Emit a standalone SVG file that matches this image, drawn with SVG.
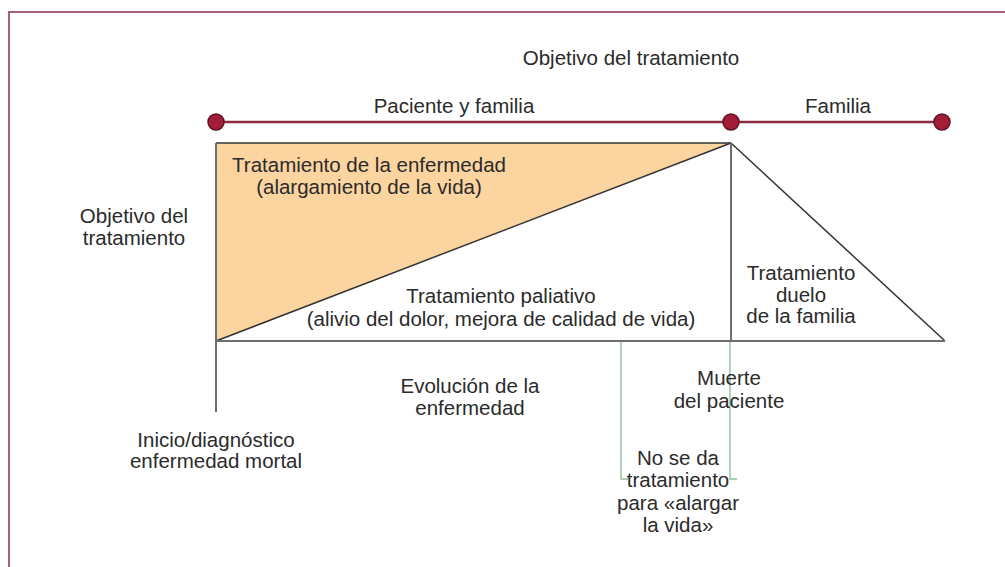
<svg xmlns="http://www.w3.org/2000/svg" width="1005" height="567" viewBox="0 0 1005 567">
<style>
text{font-family:"Liberation Sans",Arial,sans-serif;font-size:20.5px;fill:#2b2b2b;text-anchor:middle}
.dot{fill:#a31d38;stroke:#5e1222;stroke-width:1.5}
.axis{stroke:#8c2b43;stroke-width:2.5;fill:none}
.gray{stroke:#6e6e6e;stroke-width:2;fill:none}
.dark{stroke:#333;stroke-width:1.5;fill:none}
.green{stroke:#a9cfb2;stroke-width:1.8;fill:none}
</style>
<rect width="1005" height="567" fill="#fff"/>
<path d="M9,567 V12 H1005" fill="none" stroke="#a3607a" stroke-width="2"/>

<g id="connectors">
<polygon points="216,143 731,143 216,341" fill="#fcd4a0"/>
<line class="axis" x1="216" y1="122" x2="942" y2="122"/>
<line class="dark" x1="216" y1="143" x2="731" y2="143"/>
<line class="dark" x1="216" y1="341" x2="731" y2="143"/>
<line class="dark" x1="731" y1="143" x2="945" y2="341"/>
<line class="gray" x1="216" y1="143" x2="216" y2="412"/>
<line class="gray" x1="731" y1="143" x2="731" y2="341"/>
<line class="gray" x1="216" y1="341" x2="945" y2="341"/>
<path class="green" d="M621,342 V479 H628"/>
<path class="green" d="M730,342 V479 H737"/>
</g>

<g id="dot-start"><circle class="dot" cx="216" cy="122" r="8"/></g>
<g id="dot-death"><circle class="dot" cx="731" cy="122" r="8"/></g>
<g id="dot-end"><circle class="dot" cx="942" cy="122" r="8"/></g>

<g id="title"><text x="631" y="65">Objetivo del tratamiento</text></g>
<g id="label-paciente"><text x="454" y="113">Paciente y familia</text></g>
<g id="label-familia"><text x="838" y="113">Familia</text></g>
<g id="label-objetivo"><text x="134" y="223">Objetivo del</text><text x="134" y="245">tratamiento</text></g>
<g id="treat-disease"><text x="369" y="172">Tratamiento de la enfermedad</text><text x="369" y="194">(alargamiento de la vida)</text></g>
<g id="treat-palliative"><text x="501" y="303">Tratamiento paliativo</text><text x="501" y="326">(alivio del dolor, mejora de calidad de vida)</text></g>
<g id="treat-grief"><text x="801" y="280">Tratamiento</text><text x="801" y="302">duelo</text><text x="801" y="323">de la familia</text></g>
<g id="evolution"><text x="470" y="393">Evolución de la</text><text x="470" y="415">enfermedad</text></g>
<g id="start"><text x="216" y="447">Inicio/diagnóstico</text><text x="216" y="468">enfermedad mortal</text></g>
<g id="death"><text x="729" y="385">Muerte</text><text x="729" y="408">del paciente</text></g>
<g id="no-treatment"><text x="678" y="465">No se da</text><text x="678" y="487">tratamiento</text><text x="678" y="510">para «alargar</text><text x="678" y="532">la vida»</text></g>
</svg>
